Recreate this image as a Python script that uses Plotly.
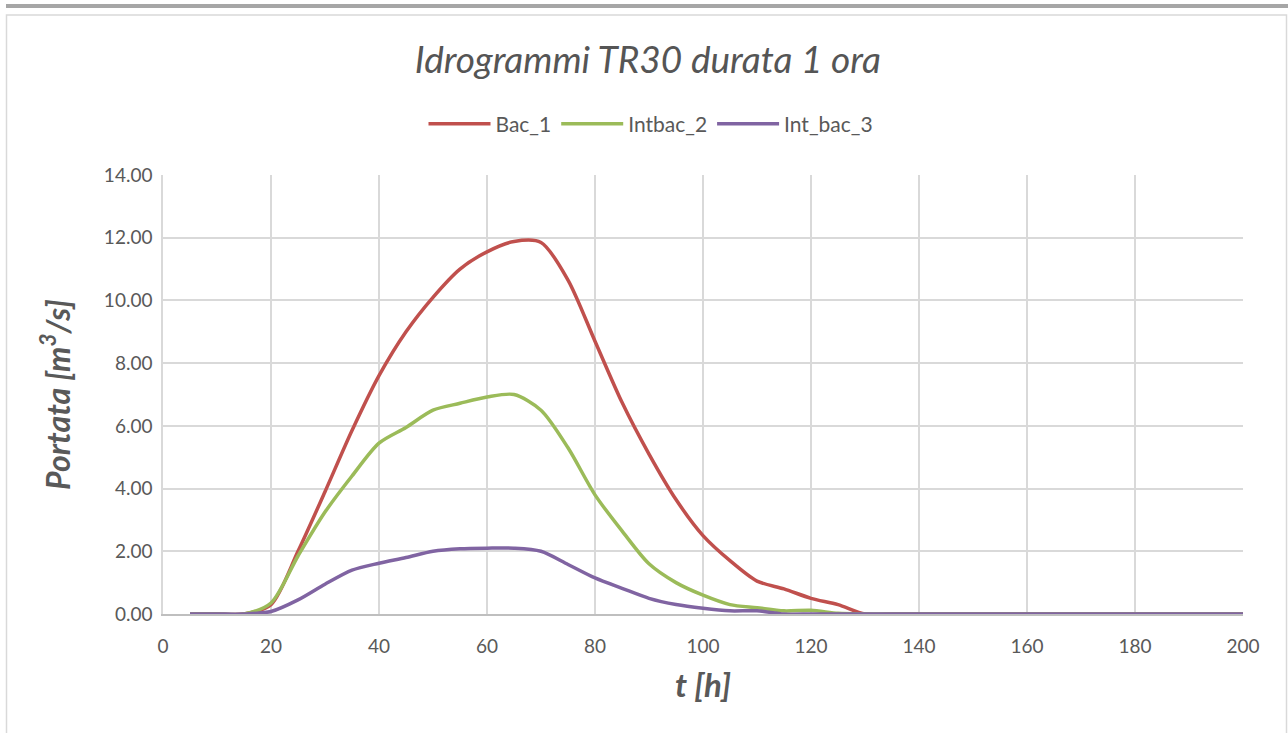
import plotly.graph_objects as go

t_hours = [5, 10, 15, 20, 25, 30, 35, 40, 45, 50, 55, 60, 65, 70, 75, 80, 85, 90, 95, 100,
           105, 110, 115, 120, 125, 130, 135, 140, 145, 150, 155, 160, 165, 170, 175, 180,
           185, 190, 195, 200]

bac_1 = [0, 0, 0, 0.3, 2.0, 3.9, 5.85, 7.6, 9.0, 10.1, 11.0, 11.55, 11.88, 11.85, 10.65, 8.7,
         6.75, 5.1, 3.65, 2.5, 1.7, 1.05, 0.8, 0.5, 0.3, 0, 0, 0, 0, 0, 0, 0, 0, 0, 0, 0,
         0, 0, 0, 0]

intbac_2 = [0, 0, 0, 0.35, 1.85, 3.25, 4.4, 5.45, 5.95, 6.5, 6.72, 6.92, 7.0, 6.5, 5.3, 3.8,
            2.65, 1.6, 1.0, 0.6, 0.3, 0.2, 0.1, 0.12, 0.02, 0, 0, 0, 0, 0, 0, 0, 0, 0, 0, 0,
            0, 0, 0, 0]

int_bac_3 = [0, 0, 0, 0.08, 0.45, 0.95, 1.4, 1.62, 1.8, 2.0, 2.08, 2.1, 2.1, 2.0, 1.58, 1.15,
             0.82, 0.5, 0.3, 0.18, 0.1, 0.1, 0, 0, 0, 0, 0, 0, 0, 0, 0, 0, 0, 0, 0, 0,
             0, 0, 0, 0]

series = [("Bac_1", bac_1, "#c0504d"),
          ("Intbac_2", intbac_2, "#9bbb59"),
          ("Int_bac_3", int_bac_3, "#8064a2")]

FONT = "Lato"
GRAY = "#595959"

fig = go.Figure()
for name, vals, col in series:
    fig.add_trace(go.Scatter(x=t_hours, y=vals, name=name, mode="lines",
                             line=dict(color=col, width=3.5, shape="spline", smoothing=0.8)))

W, H = 1288, 733
L, R, T, B = 163, 1243, 175, 614


def px(xp):
    return (xp - L) / (R - L)


def py(yp):
    return (B - yp) / (B - T)


fig.update_layout(
    width=W, height=H,
    margin=dict(l=L, r=W - R, t=T, b=H - B),
    paper_bgcolor="white", plot_bgcolor="white",
    font=dict(family=FONT, color=GRAY, size=18),
    title=dict(text="<i>Idrogrammi TR30 durata 1 ora</i>", x=0.503, xref="container",
               y=1 - 60 / H, yref="container", xanchor="center", yanchor="middle",
               font=dict(family=FONT, size=37, color="#555555")),
    legend=dict(orientation="h", x=651 / W, xref="container", xanchor="center",
                y=1 - 124 / H, yref="container", yanchor="middle",
                font=dict(family=FONT, size=21, color=GRAY), itemwidth=62),
    showlegend=True,
    shapes=[
        dict(type="rect", xref="paper", yref="paper", x0=px(6), x1=px(1288), y0=py(8), y1=py(4),
             fillcolor="#a6a6a6", line=dict(width=0), layer="above"),
        dict(type="rect", xref="paper", yref="paper", x0=px(6.5), x1=px(1286.5), y0=py(740), y1=py(15),
             fillcolor="rgba(0,0,0,0)", line=dict(color="#d9d9d9", width=1.5), layer="below"),
    ],
)

fig.update_xaxes(range=[0, 200], dtick=20, tick0=0, showgrid=True, gridcolor="#d9d9d9",
                 gridwidth=1.5, zeroline=False, showline=True, linecolor="#bfbfbf", linewidth=1.5,
                 ticks="", ticklabelstandoff=14, tickfont=dict(size=19, color=GRAY),
                 title=dict(text="<b><i>t [h]</i></b>", font=dict(size=33, color=GRAY), standoff=18))
fig.update_yaxes(range=[0, 14], dtick=2, tickformat=".2f", showgrid=True, gridcolor="#d9d9d9",
                 gridwidth=1.5, zeroline=False, showline=True, linecolor="#d9d9d9", linewidth=1.5,
                 ticks="", ticklabelstandoff=5, tickfont=dict(size=19, color=GRAY),
                 title=dict(text="<b><i>Portata [m<sup>3</sup>/s]</i></b>",
                            font=dict(size=32, color=GRAY), standoff=24))

fig.write_html("out.html")
